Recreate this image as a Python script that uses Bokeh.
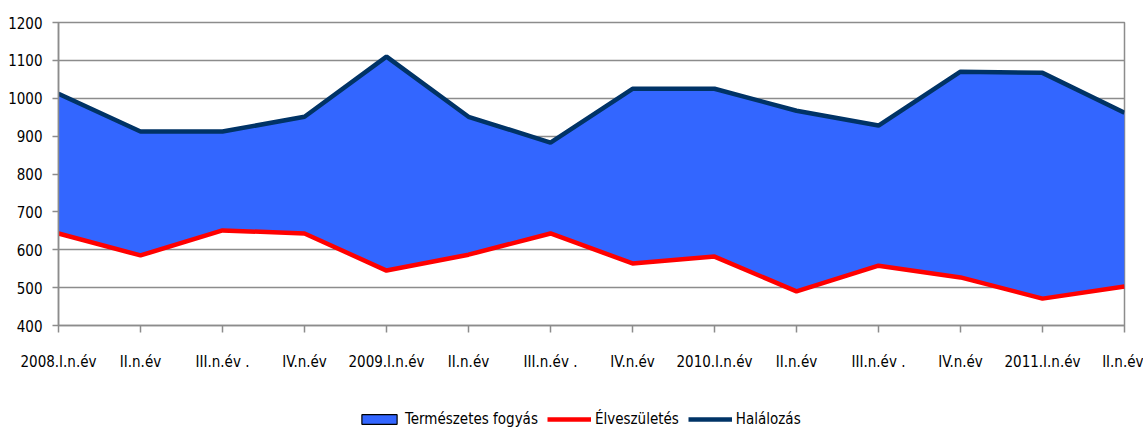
from bokeh.plotting import figure
from bokeh.layouts import column
from bokeh.models import Range1d, Legend, LegendItem, FixedTicker, ColumnDataSource
from bokeh.embed import file_html
from bokeh.resources import INLINE

categories = ["2008.I.n.év", "II.n.év", "III.n.év .", "IV.n.év",
              "2009.I.n.év", "II.n.év", "III.n.év .", "IV.n.év",
              "2010.I.n.év", "II.n.év", "III.n.év .", "IV.n.év",
              "2011.I.n.év", "II.n.év"]
halalozas = [1012, 912, 912, 951, 1110, 951, 883, 1025, 1025, 967, 928, 1070, 1067, 962]
elveszuletes = [643, 585, 651, 643, 545, 587, 643, 564, 582, 490, 558, 527, 471, 503]
y_ticks = [400, 500, 600, 700, 800, 900, 1000, 1100, 1200]
series_names = ["Természetes fogyás", "Élveszületés", "Halálozás"]

FONT = "'Liberation Sans Narrow', 'DejaVu Sans Condensed', 'Liberation Sans', sans-serif"
BLUE, RED, NAVY = "#3366FF", "#FF0000", "#003366"
xs = list(range(len(categories)))
src = ColumnDataSource(dict(x=xs, h=halalozas, e=elveszuletes))

p = figure(width=1143, height=380, output_backend="svg", toolbar_location=None,
           x_range=Range1d(0, len(categories) - 1), y_range=Range1d(400, 1200),
           min_border_left=58, min_border_right=19, min_border_top=22, min_border_bottom=55)
p.outline_line_color = "#8c8c8c"
p.outline_line_width = 1.5

p.varea(x="x", y1="e", y2="h", source=src, fill_color=BLUE)
p.line(x="x", y="e", source=src, line_color=RED, line_width=4.5)
p.line(x="x", y="h", source=src, line_color=NAVY, line_width=4.5)

p.xgrid.grid_line_color = None
p.ygrid.grid_line_color = "#8c8c8c"
p.ygrid.grid_line_width = 1.5
p.ygrid.ticker = FixedTicker(ticks=y_ticks)

p.yaxis.ticker = FixedTicker(ticks=y_ticks)
p.yaxis.axis_line_color = "#8c8c8c"
p.yaxis.axis_line_width = 1.5
p.yaxis.major_tick_line_color = "#8c8c8c"
p.yaxis.major_tick_line_width = 1.5
p.yaxis.major_tick_out = 6
p.yaxis.major_tick_in = 0
p.yaxis.minor_tick_line_color = None
p.yaxis.major_label_text_font = FONT
p.yaxis.major_label_text_font_size = "15px"
p.yaxis.major_label_text_color = "black"
p.yaxis.major_label_standoff = 10

p.xaxis.ticker = FixedTicker(ticks=xs)
p.xaxis.major_label_overrides = {i: c for i, c in enumerate(categories)}
p.xaxis.axis_line_color = "#8c8c8c"
p.xaxis.axis_line_width = 1.5
p.xaxis.major_tick_line_color = "#8c8c8c"
p.xaxis.major_tick_line_width = 1.5
p.xaxis.major_tick_out = 7
p.xaxis.major_tick_in = 0
p.xaxis.minor_tick_line_color = None
p.xaxis.major_label_text_font = FONT
p.xaxis.major_label_text_font_size = "15px"
p.xaxis.major_label_text_color = "black"
p.xaxis.major_label_standoff = 20

# legend strip (proxy renderers sit outside the visible range)
q = figure(width=1143, height=48, output_backend="svg", toolbar_location=None,
           x_range=Range1d(0, 1), y_range=Range1d(0, 1),
           x_axis_type=None, y_axis_type=None, min_border=0)
q.outline_line_color = None
q.xgrid.grid_line_color = None
q.ygrid.grid_line_color = None
r_fill = q.quad(left=[-3], right=[-2], top=[-2], bottom=[-3], fill_color=BLUE,
                line_color="black", line_width=1.2)
r_red = q.line(x=[-3, -2], y=[-3, -3], line_color=RED, line_width=4.5)
r_navy = q.line(x=[-3, -2], y=[-3, -3], line_color=NAVY, line_width=4.5)

legend = Legend(items=[
    LegendItem(label=series_names[0], renderers=[r_fill]),
    LegendItem(label=series_names[1], renderers=[r_red]),
    LegendItem(label=series_names[2], renderers=[r_navy]),
], orientation="horizontal", location=(299, 0))
legend.label_text_font = FONT
legend.label_text_font_size = "15px"
legend.label_text_color = "black"
legend.border_line_color = None
legend.background_fill_alpha = 0
legend.glyph_width = 44
legend.glyph_height = 12
legend.label_standoff = 4
legend.spacing = 9
legend.padding = 0
legend.margin = 0
legend.label_height = 14
q.add_layout(legend)

layout = column(p, q, spacing=0)
open("out.html", "w").write(file_html(layout, INLINE))
